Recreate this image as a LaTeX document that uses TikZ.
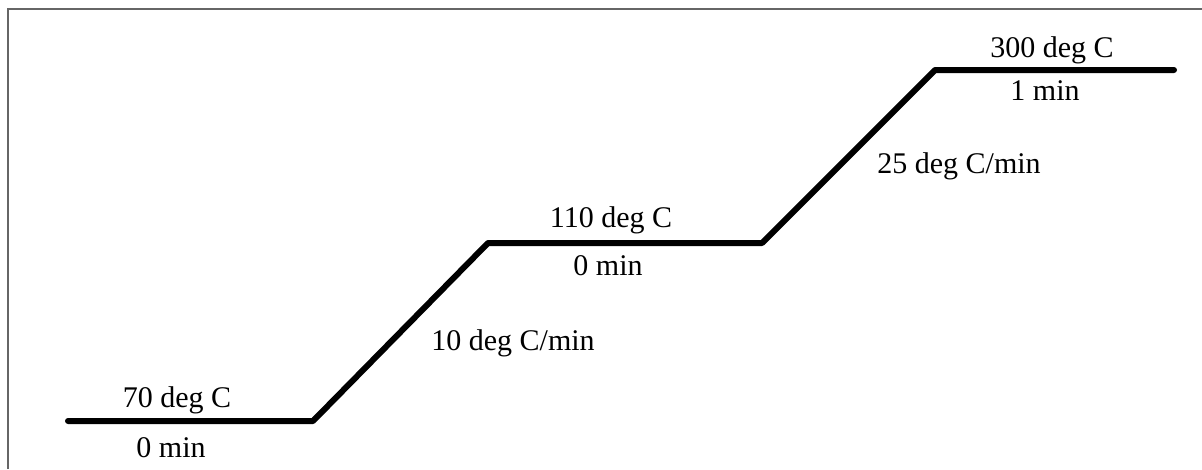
\documentclass[tikz,border=0pt]{standalone}
\usepackage{fontspec}
\setmainfont{Liberation Serif}
\begin{document}
\begin{tikzpicture}[x=1pt,y=-1pt,
  lbl/.style={anchor=base,inner sep=0pt,font=\fontsize{30}{36}\selectfont},
  profile/.style={line width=6pt,line cap=round,line join=bevel}]
\useasboundingbox (0,0) rectangle (1202,469);
\draw[gray!80!black,line width=1.5pt] (8,469) -- (8,9) -- (1202,9);
\coordinate (p0) at (68,421);
\coordinate (p1) at (313,421);
\coordinate (p2) at (488,243);
\coordinate (p3) at (762,243);
\coordinate (p4) at (935,70);
\coordinate (p5) at (1174,70);
\draw[profile] (p0) -- (p1) -- (p2) -- (p3) -- (p4) -- (p5);
\node[lbl] (t1) at (177,407) {70 deg C};
\node[lbl] (m1) at (171,457) {0 min};
\node[lbl] (r1) at (513,350) {10 deg C/min};
\node[lbl] (t2) at (611,227) {110 deg C};
\node[lbl] (m2) at (608,275) {0 min};
\node[lbl] (r2) at (959,173) {25 deg C/min};
\node[lbl] (t3) at (1052,57) {300 deg C};
\node[lbl] (m3) at (1045,100) {1 min};
\end{tikzpicture}
\end{document}
